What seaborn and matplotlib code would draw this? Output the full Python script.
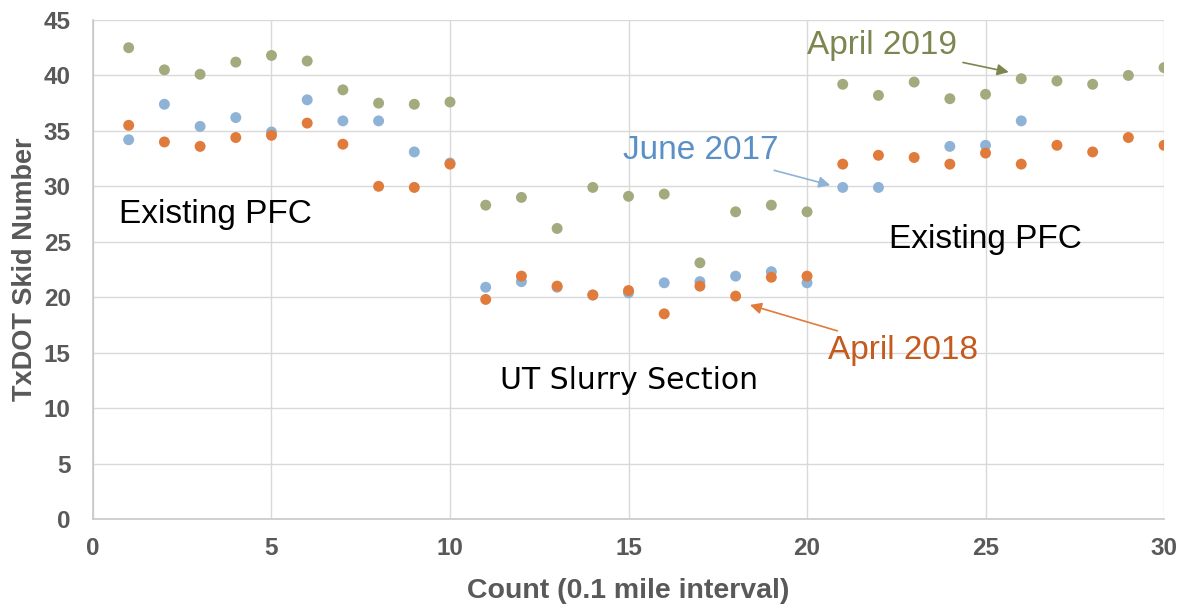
import matplotlib
matplotlib.use("Agg")
import matplotlib.pyplot as plt
import numpy as np
import pandas as pd
import seaborn as sns

count = list(range(1, 31))
june_2017 = [34.2, 37.4, 35.4, 36.2, 34.9, 37.8, 35.9, 35.9, 33.1, 32.1,
             20.9, 21.4, 20.9, 20.2, 20.4, 21.3, 21.4, 21.9, 22.3, 21.3,
             29.9, 29.9, np.nan, 33.6, 33.7, 35.9, np.nan, np.nan, np.nan, np.nan]
april_2018 = [35.5, 34.0, 33.6, 34.4, 34.6, 35.7, 33.8, 30.0, 29.9, 32.0,
              19.8, 21.9, 21.0, 20.2, 20.6, 18.5, 21.0, 20.1, 21.8, 21.9,
              32.0, 32.8, 32.6, 32.0, 33.0, 32.0, 33.7, 33.1, 34.4, 33.7]
april_2019 = [42.5, 40.5, 40.1, 41.2, 41.8, 41.3, 38.7, 37.5, 37.4, 37.6,
              28.3, 29.0, 26.2, 29.9, 29.1, 29.3, 23.1, 27.7, 28.3, 27.7,
              39.2, 38.2, 39.4, 37.9, 38.3, 39.7, 39.5, 39.2, 40.0, 40.7]
series = ["June 2017", "April 2018", "April 2019"]

colors = {"June 2017": "#8fb3d6", "April 2018": "#e07b3c", "April 2019": "#a3ab7e"}
text_colors = {"June 2017": "#5b90c6", "April 2018": "#c55a1e", "April 2019": "#7b8650"}

df = pd.DataFrame({
    "Count": count * 3,
    "Skid": june_2017 + april_2018 + april_2019,
    "Survey": [s for s in series for _ in count],
}).dropna()

sns.set_theme(style="white")
plt.rcParams['font.family'] = ['Liberation Sans', 'DejaVu Sans']

fig = plt.figure(figsize=(11.86, 6.09), dpi=100)
ax = fig.add_axes([0.0784, 0.1478, 0.9031, 0.8194])

sns.scatterplot(data=df, x="Count", y="Skid", hue="Survey", hue_order=series,
                palette=colors, s=62, linewidth=0, legend=False, ax=ax, zorder=3)

ax.set_xlim(0, 30)
ax.set_ylim(0, 45)
ax.set_xticks(range(0, 31, 5))
ax.set_yticks(range(0, 46, 5))
ax.grid(True, color="#d9d9d9", linewidth=1.0)
ax.set_axisbelow(True)
for side in ["top", "right"]:
    ax.spines[side].set_visible(False)
for side in ["left", "bottom"]:
    ax.spines[side].set_color("#c8c8c8")
    ax.spines[side].set_linewidth(1.2)
ax.tick_params(axis="x", length=0, labelsize=17.5, labelcolor="#595959", pad=13)
ax.tick_params(axis="y", length=0, labelsize=17.5, labelcolor="#595959", pad=16)
for lab in ax.get_xticklabels() + ax.get_yticklabels():
    lab.set_fontweight("bold")

ax.set_xlabel("Count (0.1 mile interval)", fontsize=20.5, fontweight="bold", color="#595959")
ax.set_ylabel("TxDOT Skid Number", fontsize=19.5, fontweight="bold", color="#595959")
ax.xaxis.set_label_coords(0.5, -0.118)
ax.yaxis.set_label_coords(-0.051, 0.5)

# region labels
ax.text(0.72, 27.5, "Existing PFC", fontsize=24, color="black", va="center")
ax.text(22.3, 25.2, "Existing PFC", fontsize=24, color="black", va="center")
ax.text(11.4, 12.5, "UT Slurry Section", fontsize=21.5, color="black", va="center",
        family=["DejaVu Sans"])

# series callouts
ax.annotate("April 2019", xy=(25.65, 40.3), xytext=(24.2, 42.7),
            fontsize=24, color=text_colors["April 2019"], ha="right", va="center",
            arrowprops=dict(arrowstyle="-|>", color=text_colors["April 2019"], lw=1.2,
                            mutation_scale=17, shrinkA=2, shrinkB=0))
ax.annotate("June 2017", xy=(20.65, 30.1), xytext=(19.2, 33.2),
            fontsize=24, color=text_colors["June 2017"], ha="right", va="center",
            arrowprops=dict(arrowstyle="-|>", color=colors["June 2017"], lw=1.2,
                            mutation_scale=17, shrinkA=2, shrinkB=0))
ax.annotate("April 2018", xy=(18.4, 19.3), xytext=(20.6, 15.2),
            fontsize=24, color=text_colors["April 2018"], ha="left", va="center",
            arrowprops=dict(arrowstyle="-|>", color=colors["April 2018"], lw=1.2,
                            mutation_scale=17, shrinkA=2, shrinkB=0))

fig.savefig("out.png", dpi=100)
